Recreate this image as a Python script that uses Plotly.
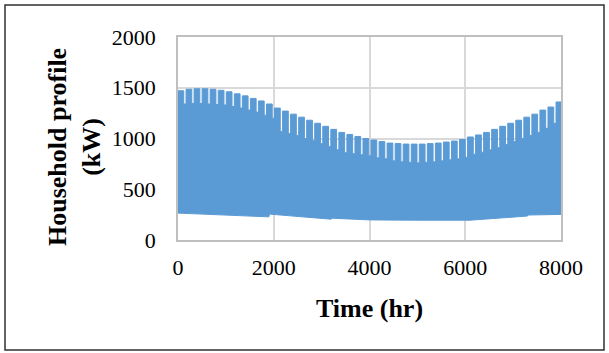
import plotly.graph_objects as go

# Weekly envelope of the hourly household load (kW)
week_len_hr = 168
weekday_len_hr = 120
weekday_peak = [1470, 1485, 1490, 1490, 1485, 1475, 1460, 1440, 1420, 1395, 1370, 1340,
                1300, 1270, 1240, 1210, 1180, 1150, 1120, 1090, 1060, 1040, 1020, 1000,
                985, 970, 955, 950, 945, 945, 945, 950, 955, 965, 975, 990,
                1015, 1035, 1060, 1090, 1120, 1150, 1180, 1210, 1240, 1280, 1310, 1360]
weekend_peak = [1340, 1345, 1345, 1340, 1335, 1330, 1315, 1300, 1280, 1260, 1230, 1200,
                1070, 1050, 1030, 1000, 980, 950, 920, 890, 860, 850, 840, 830,
                810, 800, 780, 770, 765, 760, 765, 770, 780, 790, 800, 815,
                845, 865, 890, 910, 940, 970, 1000, 1030, 1060, 1100, 1150, 1200]
# Night-time base load envelope
base_hr = [0, 1900, 1910, 3200, 3210, 4000, 5000, 6000, 6100, 7300, 7310, 8000]
base_kw = [265, 228, 255, 205, 215, 198, 195, 200, 195, 236, 246, 252]

x_ticks = [0, 2000, 4000, 6000, 8000]
y_ticks = [0, 500, 1000, 1500, 2000]

# stepped upper envelope built from weekly values
up_x, up_y = [], []
for k, (wd, we) in enumerate(zip(weekday_peak, weekend_peak)):
    up_x += [k * week_len_hr, k * week_len_hr + weekday_len_hr]
    up_y += [wd, we]
up_x.append(8000)
up_y.append(weekday_peak[-1])

blue = "#5b9bd5"
fig = go.Figure()
fig.add_trace(go.Scatter(x=base_hr, y=base_kw, mode="lines",
                         line=dict(color=blue, width=1), hoverinfo="skip",
                         showlegend=False))
fig.add_trace(go.Scatter(x=up_x, y=up_y, mode="lines", line_shape="hv",
                         line=dict(color=blue, width=1), fill="tonexty",
                         fillcolor=blue, showlegend=False))

font_family = "Liberation Serif, Times New Roman, serif"
fig.update_layout(
    width=609, height=353,
    margin=dict(l=178, r=48, t=37, b=113),
    paper_bgcolor="white", plot_bgcolor="white",
    font=dict(family=font_family, color="black"),
    xaxis=dict(range=[0, 8000], tickvals=x_ticks, ticks="", showgrid=True,
               gridcolor="#d9d9d9", gridwidth=1.5, showline=True, linecolor="#bfbfbf",
               linewidth=1.5, mirror=True, zeroline=False,
               tickfont=dict(size=22), ticklabelstandoff=7,
               title=dict(text="<b>Time (hr)</b>", font=dict(size=26), standoff=20)),
    yaxis=dict(range=[0, 2000], tickvals=y_ticks, ticks="", showgrid=True,
               gridcolor="#d9d9d9", gridwidth=1.5, showline=True, linecolor="#bfbfbf",
               linewidth=1.5, mirror=True, zeroline=False,
               tickfont=dict(size=22), ticklabelstandoff=16),
)

# y-axis title placed by its centre
fig.add_annotation(text="<b>Household profile<br>(kW)</b>", xref="paper", yref="paper",
                   x=(74 - 178) / 383, y=(240 - 147) / 203, xanchor="center",
                   yanchor="middle", textangle=-90, showarrow=False,
                   font=dict(size=26, family=font_family, color="black"))

# outer border around the whole chart
fig.add_shape(type="rect", xref="paper", yref="paper",
              x0=(5 - 178) / 383, x1=(604 - 178) / 383,
              y0=(240 - 350) / 203, y1=(240 - 5) / 203,
              line=dict(color="#303030", width=1.5))

fig.write_html("out.html", config={"displayModeBar": False},
               post_script="document.body.style.margin='0';document.body.style.overflow='hidden';")
